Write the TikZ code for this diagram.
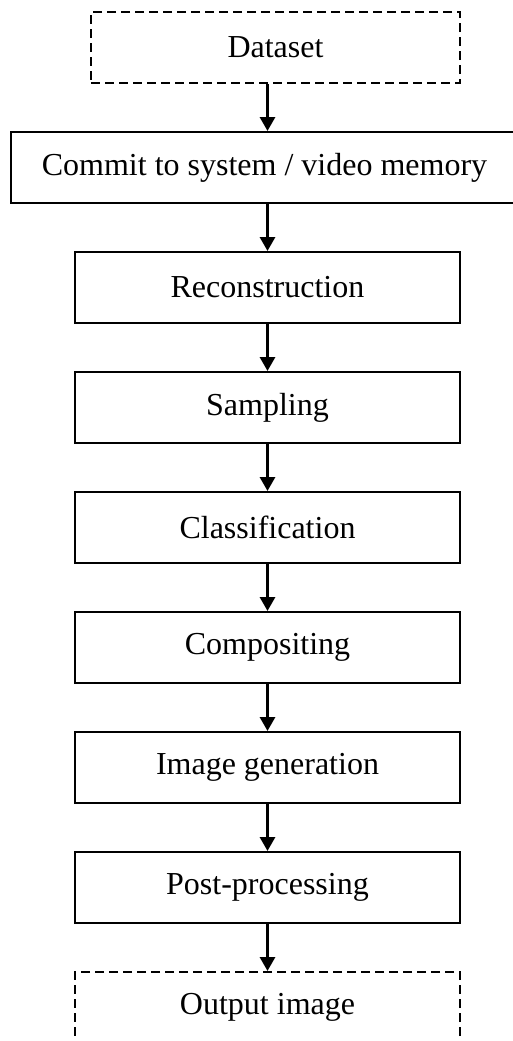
\documentclass[tikz,border=0pt]{standalone}
\usepackage{fontspec}
\setmainfont{Liberation Serif}
\usepackage{tikz}
\usetikzlibrary{arrows.meta, positioning, calc}

\begin{document}
\begin{tikzpicture}[
  x=0.5pt, y=-0.5pt,
  stage/.style={
    rectangle,
    draw=black,
    line width=1pt,
    minimum width=192.5pt,
    minimum height=35.5pt,
    inner sep=0pt,
    font=\fontsize{16}{19}\selectfont
  },
  io/.style={
    stage,
    dash pattern=on 4.5pt off 2.5pt
  },
  flow/.style={
    line width=1.5pt,
    -{Triangle[length=7pt,width=7.5pt]}
  }
]
  \useasboundingbox[fill=white] (0,0) rectangle (513,1041);

  \node[io, minimum width=184.5pt] (dataset) at (275.5,47.5) {Dataset};
  \node[stage, minimum width=253.5pt] (commit) at (264.5,167.5) {Commit to system / video memory};
  \node[stage] (recon) at (267.5,287.5) {Reconstruction};
  \node[stage] (sampling) at (267.5,407.5) {Sampling};
  \node[stage] (classif) at (267.5,527.5) {Classification};
  \node[stage] (compos) at (267.5,647.5) {Compositing};
  \node[stage] (imggen) at (267.5,767.5) {Image generation};
  \node[stage] (postproc) at (267.5,887.5) {Post-processing};
  \node[io] (output) at (267.5,1007.5) {Output image};

  % arrows down the pipeline
  \draw[flow] (dataset.south -| recon) -- (commit.north -| recon);
  \draw[flow] (commit.south -| recon) -- (recon.north);
  \draw[flow] (recon) -- (sampling);
  \draw[flow] (sampling) -- (classif);
  \draw[flow] (classif) -- (compos);
  \draw[flow] (compos) -- (imggen);
  \draw[flow] (imggen) -- (postproc);
  \draw[flow] (postproc) -- (output);
\end{tikzpicture}
\end{document}
